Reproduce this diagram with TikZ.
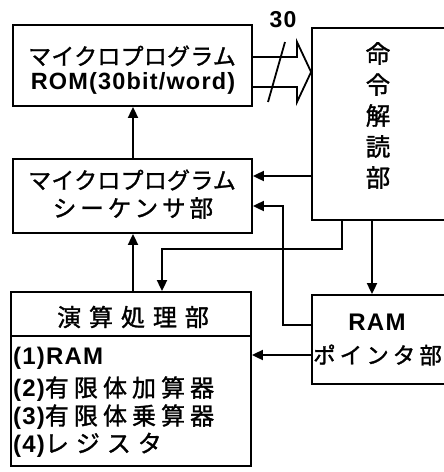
\documentclass[tikz,border=0pt]{standalone}
\usepackage{fontspec}
\usetikzlibrary{arrows.meta}
\newfontfamily\jpf{Noto Sans CJK JP}[FakeBold=1.3]
\newfontfamily\latf{Liberation Sans}[LetterSpace=5]
\newcommand\JJ[2]{{\jpf\addfontfeature{LetterSpace=#1}#2}}
\newcommand\LL[1]{{\latf\bfseries #1}}
\tikzset{
  box/.style={draw, line width=1.8pt, rectangle, inner sep=0pt},
  lbl/.style={inner sep=0pt, font=\fontsize{23}{25}\selectfont},
  conn/.style={line width=1.8pt},
  arr/.style={conn, -{Triangle[length=11pt,width=10pt]}},
}
\begin{document}
\begin{tikzpicture}[x=1pt,y=-1pt]
\useasboundingbox (0,0) rectangle (444,472);
\clip (0,0) rectangle (444,472);
\fill[white] (0,0) rectangle (444,472);
% boxes
\node[box, minimum width=239pt, minimum height=81pt] (rom) at (132.5,65.5) {};
\node[box, minimum width=150pt, minimum height=192pt] (dec) at (387,124) {};
\node[box, minimum width=239pt, minimum height=74pt] (seq) at (132.5,196) {};
\node[box, minimum width=240pt, minimum height=174pt] (alu) at (131,379) {};
\node[box, minimum width=150pt, minimum height=89pt] (ram) at (387,339.5) {};
\draw[conn] ([yshift=-45pt]alu.north west) -- ([yshift=-45pt]alu.north east);
% texts
\node[lbl] (t1) at (132,56) {\JJ{1}{マイクロプログラム}};
\node[lbl] (t2) at (133,83) {\fontsize{23.5}{25}\selectfont\LL{ROM(30bit/word)}};
\node[lbl, align=center, font=\fontsize{24.5}{31}\selectfont] (t3) at (378,115.5) {\JJ{0}{命}\\\JJ{0}{令}\\\JJ{0}{解}\\\JJ{0}{読}\\\JJ{0}{部}};
\node[lbl] (t4) at (132,180) {\JJ{1}{マイクロプログラム}};
\node[lbl, font=\fontsize{23.5}{25}\selectfont] (t5) at (133,208) {\JJ{17}{シーケンサ部}};
\node[lbl, font=\fontsize{24}{25}\selectfont] (t6) at (133,317) {\JJ{33}{演算処理部}};
\node[lbl, anchor=west, font=\fontsize{24}{25}\selectfont] (t7) at (13,358) {\LL{(1)RAM}};
\node[lbl, anchor=west, font=\fontsize{24}{25}\selectfont] (t8) at (13,389) {\LL{(2)}\JJ{21}{有限体加算器}};
\node[lbl, anchor=west, font=\fontsize{24}{25}\selectfont] (t9) at (13,417) {\LL{(3)}\JJ{21}{有限体乗算器}};
\node[lbl, anchor=west, font=\fontsize{24}{25}\selectfont] (t10) at (13,445) {\LL{(4)}\JJ{29}{レジスタ}};
\node[lbl, font=\fontsize{24}{25}\selectfont] (t11) at (377,322) {\LL{RAM}};
\node[lbl, anchor=west, font=\fontsize{22.5}{25}\selectfont] (t12) at (313,355) {\JJ{18}{ポインタ部}};
\node[lbl, font=\fontsize{23}{25}\selectfont] (t13) at (283,20) {\LL{30}};
% hollow bus arrow
\draw[conn, line join=miter] (rom.east |- 0,57) -- (297,57) -- (297,42) -- (dec.west |- 0,72) -- (297,102) -- (297,87) -- (rom.east |- 0,87);
\draw[conn] (268,102) -- (285,42);
% connectors
\draw[arr] (seq.north -| 133,0) -- (rom.south -| 133,0);
\draw[arr] (dec.west |- 0,176) -- (seq.east |- 0,176);
\draw[arr] (ram.west |- 0,325) -| (283,206) -- (seq.east |- 0,206);
\draw[arr] (dec.south -| 342,0) |- (162,249) -- (alu.north -| 162,0);
\draw[arr] (dec.south -| 372,0) -- (ram.north -| 372,0);
\draw[arr] (alu.north -| 133,0) -- (seq.south -| 133,0);
\draw[arr] (ram.west |- 0,355) -- (alu.east |- 0,355);
\end{tikzpicture}
\end{document}
